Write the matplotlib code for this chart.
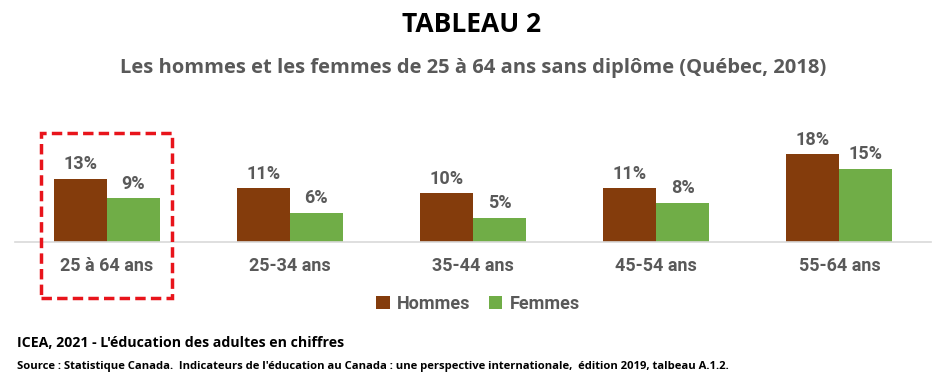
import numpy as np
import matplotlib.pyplot as plt
from matplotlib.patches import Rectangle

# data
categories = ['25 à 64 ans', '25-34 ans', '35-44 ans', '45-54 ans', '55-64 ans']
hommes = [13, 11, 10, 11, 18]
femmes = [9, 6, 5, 8, 15]

BROWN = '#843C0C'
GREEN = '#70AD47'
GRAY = '#595959'
NARROW = ['Open Sans', 'DejaVu Sans']
LABEL_FONT = ['Roboto', 'DejaVu Sans']

W, H = 946, 380
fig = plt.figure(figsize=(W / 100, H / 100), dpi=100)

# axes placed in pixel units: baseline at y=242 px, plot from x=15 to x=931
px_per_pct = 4.87
ax_top_px = 120
ax = fig.add_axes([15 / W, 1 - 242 / H, 916 / W, ax_top_px / H])
x = np.arange(len(categories))
bw = 53 / 183
ax.bar(x - bw / 2, hommes, bw, color=BROWN, label='Hommes')
ax.bar(x + bw / 2, femmes, bw, color=GREEN, label='Femmes')
ax.set_xlim(-0.5, len(categories) - 0.5)
ax.set_ylim(0, ax_top_px / px_per_pct)

for i in range(len(categories)):
    ax.annotate(f'{hommes[i]}%', (x[i] - bw / 2, hommes[i]), xytext=(0, 4), textcoords='offset points',
                ha='center', va='bottom', fontsize=13, fontweight='bold', color=GRAY, family=LABEL_FONT)
    ax.annotate(f'{femmes[i]}%', (x[i] + bw / 2, femmes[i]), xytext=(0, 4), textcoords='offset points',
                ha='center', va='bottom', fontsize=13, fontweight='bold', color=GRAY, family=LABEL_FONT)

for s in ['top', 'right', 'left']:
    ax.spines[s].set_visible(False)
ax.spines['bottom'].set_color('#D9D9D9')
ax.spines['bottom'].set_linewidth(1.2)
ax.set_yticks([])
ax.set_xticks(x)
ax.set_xticklabels(categories, fontsize=13, fontweight='bold', color=GRAY, family=LABEL_FONT)
ax.tick_params(axis='x', length=0, pad=11)

leg = fig.legend(loc='center', bbox_to_anchor=(478 / W, 1 - 304 / H), ncol=2, frameon=False,
                 handlelength=0.75, handleheight=0.75, handletextpad=0.4, columnspacing=1.0,
                 prop={'family': LABEL_FONT, 'weight': 'bold', 'size': 13})
for t in leg.get_texts():
    t.set_color(GRAY)

# red dashed highlight box
fig.patches.append(Rectangle((41 / W, 1 - 298 / H), 131 / W, 165 / H, transform=fig.transFigure,
                             fill=False, edgecolor='#E8141B', linewidth=2.5, linestyle=(0, (3, 1.5))))

fig.text(472 / W, 1 - 25 / H, 'TABLEAU 2', ha='center', va='center', fontsize=19,
         fontweight='bold', color='black', family=NARROW)
fig.text(473 / W, 1 - 68 / H, 'Les hommes et les femmes de 25 à 64 ans sans diplôme (Québec, 2018)',
         ha='center', va='center', fontsize=14.5, fontweight='bold', color=GRAY, family=NARROW)
fig.text(17 / W, 1 - 343 / H, "ICEA, 2021 - L'éducation des adultes en chiffres", ha='left', va='center',
         fontsize=10.2, fontweight='bold', color='black', family=NARROW)
fig.text(17 / W, 1 - 366 / H,
         "Source : Statistique Canada.  Indicateurs de l'éducation au Canada : une perspective internationale,  édition 2019, talbeau A.1.2.",
         ha='left', va='center', fontsize=8.15, fontweight='bold', color='black', family=NARROW)

fig.savefig('out.png', dpi=100)
